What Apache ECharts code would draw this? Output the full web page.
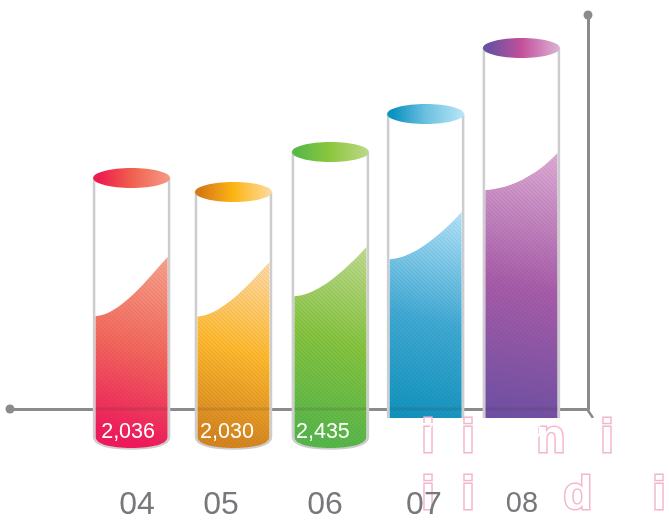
<!DOCTYPE html>
<html><head><meta charset="utf-8">
<style>html,body{margin:0;padding:0;background:#fff}#c{width:669px;height:521px}</style>
<script src="https://cdn.jsdelivr.net/npm/echarts@6/dist/echarts.min.js"></script>
</head><body><div id="c"></div>
<script>
// ---- data ----
const years      = [4, 5, 6, 7, 8];
const yearLabels = ['04', '05', '06', '07', '08'];
const fillValues = [2036, 2030, 2435, 3175, 4560];   // level at the left of the liquid, also the label
const crestValues = [3220, 3120, 3420, 4120, 5300];  // level where the liquid meets the right wall
const tubeValues  = [4800, 4520, 5320, 6080, 7400];  // height of the glass tube
const watermarkTop = ['i', 'i', 'n', 'i'];
const watermarkBottom = ['i', 'i', 'd', 'i'];

// ---- styling ----
const bodyColors = [
  ['#ee1a5c', '#f2685c', '#f6a08a'],
  ['#d4851f', '#fdb92e', '#fdd8a2'],
  ['#57b649', '#84c33f', '#bcd98c'],
  ['#0a90ba', '#3fa9d3', '#aee1f8'],
  ['#6a4fa3', '#a65ca8', '#dbaad3']
];
const capColors = [
  ['#ee1c4e', '#f0604f', '#f59a85'],
  ['#d77a14', '#fdb515', '#fddaa0'],
  ['#5ab946', '#8dc63f', '#bcd98a'],
  ['#0d93c0', '#6cc0e0', '#b9e6f8'],
  ['#6a51a3', '#c2509b', '#dcb4d6']
];
const tubeNudge = [-0.042, 0.012, 0.015, 0, -0.009];
const valueLabelShift = [-3.5, -6.5, -7.5, -6.5, -6.5];
const tickLabelSlots = [4.014, 4.883, 5.959, 6.982, 7.996];
const AXIS = '#8b8b8d', TEXT = '#77787b', FONT = '"Liberation Sans", Arial, sans-serif';

const hatch = document.createElement('canvas');
hatch.width = hatch.height = 4;
(function () {
  const g = hatch.getContext('2d');
  g.strokeStyle = 'rgba(70,30,50,0.07)';
  g.lineWidth = 1;
  g.beginPath(); g.moveTo(0, 0); g.lineTo(4, 4); g.stroke();
})();

function grad(x0, y0, x1, y1, c, mid) {
  return new echarts.graphic.LinearGradient(x0, y0, x1, y1, [
    { offset: 0.08, color: c[0] }, { offset: mid, color: c[1] }, { offset: 1, color: c[2] }
  ]);
}

function renderTube(params, api) {
  const i = params.dataIndex;
  const x = api.value(0) + tubeNudge[i];
  const baseY = api.coord([x, 0])[1];
  const cx = api.coord([x, 0])[0];
  const hw = api.size([1, 0])[0] * 0.388;
  const l = cx - hw, r = cx + hw;
  const sideEnd = baseY + 19, bot = baseY + 30;
  const levelY = api.coord([x, api.value(1)])[1];
  const crestY = api.coord([x, api.value(2)])[1];
  const topY = api.coord([x, api.value(3)])[1];
  const il = l + 1.5, ir = r - 1.5;
  const k = 0.5523 * hw;
  const bottomArc = ' C ' + (ir) + ' ' + (sideEnd + 7) + ' ' + (cx + k) + ' ' + bot + ' ' + cx + ' ' + bot +
                    ' C ' + (cx - k) + ' ' + bot + ' ' + il + ' ' + (sideEnd + 7) + ' ' + il + ' ' + sideEnd;
  const liquid = 'M ' + il + ' ' + levelY +
    ' C ' + (il + 24) + ' ' + (levelY - 1) + ' ' + (ir - 20) + ' ' + (crestY + 22) + ' ' + ir + ' ' + crestY +
    ' L ' + ir + ' ' + sideEnd + bottomArc + ' Z';
  const wall = 'M ' + l + ' ' + topY + ' L ' + l + ' ' + sideEnd + ' C ' + l + ' ' + (sideEnd + 8) + ' ' +
    (cx - k) + ' ' + (bot + 0.5) + ' ' + cx + ' ' + (bot + 0.5) + ' C ' + (cx + k) + ' ' + (bot + 0.5) + ' ' +
    r + ' ' + (sideEnd + 8) + ' ' + r + ' ' + sideEnd + ' L ' + r + ' ' + topY;
  const axisY = api.coord([x, api.value(4)])[1];
  return {
    type: 'group',
    children: [
      { type: 'path', shape: { pathData: wall, layout: 'cover', x: l, y: topY, width: r - l, height: bot + 0.5 - topY },
        style: { fill: '#fff', stroke: '#cdcdcf', lineWidth: 2.5 } },
      { type: 'path', shape: { pathData: liquid, layout: 'cover', x: il, y: crestY, width: ir - il, height: bot - crestY },
        style: { fill: grad(0, 1, 0.75, 0, bodyColors[i], 0.55) } },
      { type: 'path', shape: { pathData: liquid, layout: 'cover', x: il, y: crestY, width: ir - il, height: bot - crestY },
        style: { fill: { image: hatch, repeat: 'repeat' } } },
      { type: 'rect', shape: { x: il, y: axisY - 1.5, width: ir - il, height: 3 },
        style: { fill: 'rgba(70,50,50,0.14)' } },
      { type: 'ellipse', shape: { cx: cx, cy: topY, rx: hw + 1, ry: 10 },
        style: { fill: grad(0, 0, 1, 0, capColors[i], 0.5) } }
    ]
  };
}

function renderValueLabel(params, api) {
  const i = params.dataIndex;
  const p = api.coord([api.value(0) + tubeNudge[i], 0]);
  return {
    type: 'text',
    style: {
      x: p[0] + valueLabelShift[i], y: p[1] + 14.5,
      text: echarts.format.addCommas(api.value(1)),
      fill: '#fff', font: '21.5px ' + FONT, align: 'center', verticalAlign: 'middle'
    }
  };
}

function watermark(letters, xs, y) {
  return letters.map(function (ch, i) {
    return {
      type: 'text', z: 4, left: xs[i], top: y,
      style: { text: ch, font: 'bold 47px ' + FONT, fill: '#fff', stroke: '#f4b6ce', lineWidth: 3 }
    };
  });
}

const rows = years.map(function (y, i) {
  return [y, fillValues[i], crestValues[i], tubeValues[i], 180];
});

const xScale = { type: 'value', min: 2.7, max: 8.68 };
const chart = echarts.init(document.getElementById('c'), null, { renderer: 'canvas' });
chart.setOption({
  animation: false,
  backgroundColor: '#fff',
  grid: { left: 10, right: 81, top: 15, bottom: 112 },
  xAxis: [
    Object.assign({}, xScale, {
      position: 'bottom', z: 1,
      axisLine: { show: true, onZero: false, symbol: ['circle', 'none'], symbolSize: [9, 9], lineStyle: { color: AXIS, width: 3 } },
      axisTick: { show: false }, axisLabel: { show: false }, splitLine: { show: false }
    }),
    Object.assign({}, xScale, {
      position: 'bottom', z: 6,
      axisLine: { show: false }, axisTick: { show: false }, splitLine: { show: false },
      axisLabel: {
        show: true, margin: 80, customValues: tickLabelSlots,
        color: TEXT, fontFamily: FONT, fontSize: 32,
        formatter: function (v) {
          const i = tickLabelSlots.indexOf(v);
          return i === 4 ? '{s|' + yearLabels[i] + '}' : yearLabels[i];
        },
        rich: { s: { fontSize: 29, color: TEXT, fontFamily: FONT } }
      }
    })
  ],
  yAxis: {
    type: 'value', min: 180, max: 8060, position: 'right', z: 1,
    axisLine: { show: true, onZero: false, symbol: ['none', 'circle'], symbolSize: [9, 9], lineStyle: { color: AXIS, width: 3 } },
    axisTick: { show: false }, axisLabel: { show: false }, splitLine: { show: false }
  },
  graphic: [
    { type: 'line', z: 1, shape: { x1: 587, y1: 409, x2: 593, y2: 418 }, style: { stroke: AXIS, lineWidth: 2.5 } },
    { type: 'rect', z: 3, left: 380, top: 418, shape: { width: 289, height: 103 }, style: { fill: '#fff' } }
  ].concat(watermark(watermarkTop, [420, 460, 535, 599], 414), watermark(watermarkBottom, [420, 460, 562, 651], 471)),
  series: [
    { type: 'custom', z: 2, clip: false, renderItem: renderTube, encode: { x: 0, y: 1 }, data: rows, xAxisIndex: 0 },
    { type: 'custom', z: 5, clip: false, renderItem: renderValueLabel, encode: { x: 0, y: 1 }, data: rows, xAxisIndex: 0 }
  ]
});
</script></body></html>
